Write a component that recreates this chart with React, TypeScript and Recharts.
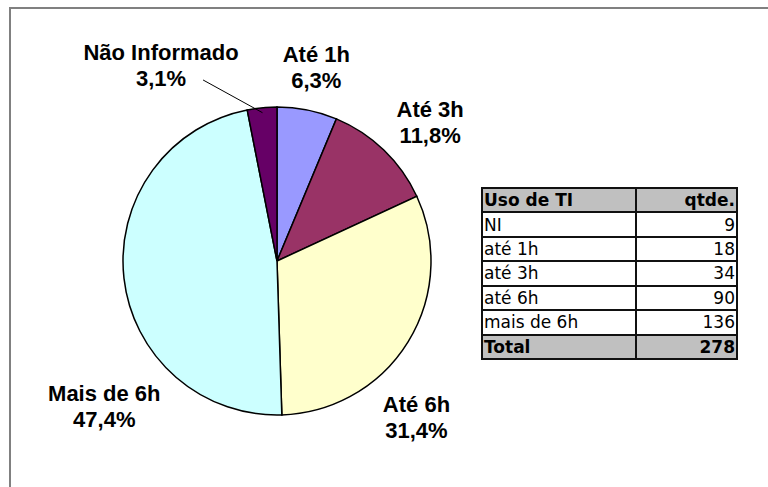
import React from 'react';
import { PieChart, Pie, Cell } from 'recharts';

const sliceNames = ['Até 1h', 'Até 3h', 'Até 6h', 'Mais de 6h', 'Não Informado'];
const slicePercents = [6.3, 11.8, 31.4, 47.4, 3.1];
const sliceColors = ['#9999FF', '#993366', '#FFFFCC', '#CCFFFF', '#660066'];

const tableHeader = ['Uso de TI', 'qtde.'];
const tableCategories = ['NI', 'até 1h', 'até 3h', 'até 6h', 'mais de 6h'];
const tableCounts = [9, 18, 34, 90, 136];
const tableTotalLabel = 'Total';
const tableTotal = 278;

const pieData = sliceNames.map((name, i) => ({ name, value: slicePercents[i] }));

// label layout: nudges from radial anchor (outerRadius + 51)
const LABEL_NUDGE: [number, number][] = [
  [-1, 2],
  [11, 4],
  [-35, 43],
  [31, 117],
  [-96, 3],
];
const LEADER_INDEX = 4;
const RADIAN = Math.PI / 180;

const fmt = (v: number) => v.toFixed(1).replace('.', ',') + '%';

const renderLabel = (props: any) => {
  const { cx, cy, midAngle, outerRadius, index, name, value } = props;
  const r = outerRadius + 51;
  const ax = cx + r * Math.cos(-midAngle * RADIAN);
  const ay = cy + r * Math.sin(-midAngle * RADIAN);
  const [dx, dy] = LABEL_NUDGE[index] || [0, 0];
  const x = ax + dx;
  const y = ay + dy;
  const style = {
    fontFamily: '"Liberation Sans", Arial, sans-serif',
    fontWeight: 700,
    fontSize: 22,
  } as React.CSSProperties;
  let leader = null;
  if (index === LEADER_INDEX) {
    const ex = cx + (outerRadius - 5) * Math.cos(-midAngle * RADIAN);
    const ey = cy + (outerRadius - 5) * Math.sin(-midAngle * RADIAN);
    leader = <line x1={x + 42} y1={y + 20} x2={ex} y2={ey} stroke="#000" strokeWidth={1} />;
  }
  return (
    <g key={`lbl-${index}`}>
      {leader}
      <text x={x} y={y} textAnchor="middle" fill="#000" style={style}>
        {name}
      </text>
      <text x={x} y={y + 26} textAnchor="middle" fill="#000" style={style}>
        {fmt(value)}
      </text>
    </g>
  );
};

const cellFont: React.CSSProperties = {
  fontFamily: '"DejaVu Sans", Verdana, sans-serif',
  fontSize: 17,
  color: '#000',
  display: 'flex',
  alignItems: 'center',
  overflow: 'hidden',
  whiteSpace: 'nowrap',
};

const DataTable = () => {
  const rows: { label: string; value: string; bold: boolean; bg: string }[] = [
    { label: tableHeader[0], value: tableHeader[1], bold: true, bg: '#C0C0C0' },
    ...tableCategories.map((c, i) => ({ label: c, value: String(tableCounts[i]), bold: false, bg: '#FFFFFF' })),
    { label: tableTotalLabel, value: String(tableTotal), bold: true, bg: '#C0C0C0' },
  ];
  return (
    <div
      style={{
        position: 'absolute',
        left: 481,
        top: 187,
        width: 257,
        height: 173,
        boxSizing: 'border-box',
        padding: 2,
        background: '#111',
        display: 'grid',
        gridTemplateColumns: '152px 99px',
        gridTemplateRows: 'repeat(7, 1fr)',
        gap: 2,
      }}
    >
      {rows.map((r, i) => (
        <React.Fragment key={i}>
          <div style={{ ...cellFont, background: r.bg, fontWeight: r.bold ? 700 : 400, paddingLeft: 1 }}>{r.label}</div>
          <div
            style={{
              ...cellFont,
              background: r.bg,
              fontWeight: r.bold ? 700 : 400,
              justifyContent: 'flex-end',
              paddingRight: 1,
            }}
          >
            {r.value}
          </div>
        </React.Fragment>
      ))}
    </div>
  );
};

export default function App() {
  return (
    <div
      style={{
        position: 'absolute',
        left: 0,
        top: 0,
        width: 768,
        height: 487,
        overflow: 'hidden',
        background: '#FFFFFF',
      }}
    >
      <div
        style={{
          position: 'absolute',
          left: 9,
          top: 7,
          width: 900,
          height: 700,
          borderLeft: '2px solid #808080',
          borderTop: '2px solid #808080',
        }}
      />
      <div style={{ position: 'absolute', left: 0, top: 0 }}>
        <PieChart width={768} height={487} margin={{ top: 0, right: 0, bottom: 0, left: 0 }}>
          <Pie
            data={pieData}
            dataKey="value"
            nameKey="name"
            cx={277}
            cy={261}
            outerRadius={154}
            startAngle={90}
            endAngle={-270}
            stroke="#000"
            strokeWidth={1.5}
            label={renderLabel}
            labelLine={false}
            isAnimationActive={false}
          >
            {pieData.map((d, i) => (
              <Cell key={d.name} fill={sliceColors[i]} />
            ))}
          </Pie>
        </PieChart>
      </div>
      <DataTable />
    </div>
  );
}
